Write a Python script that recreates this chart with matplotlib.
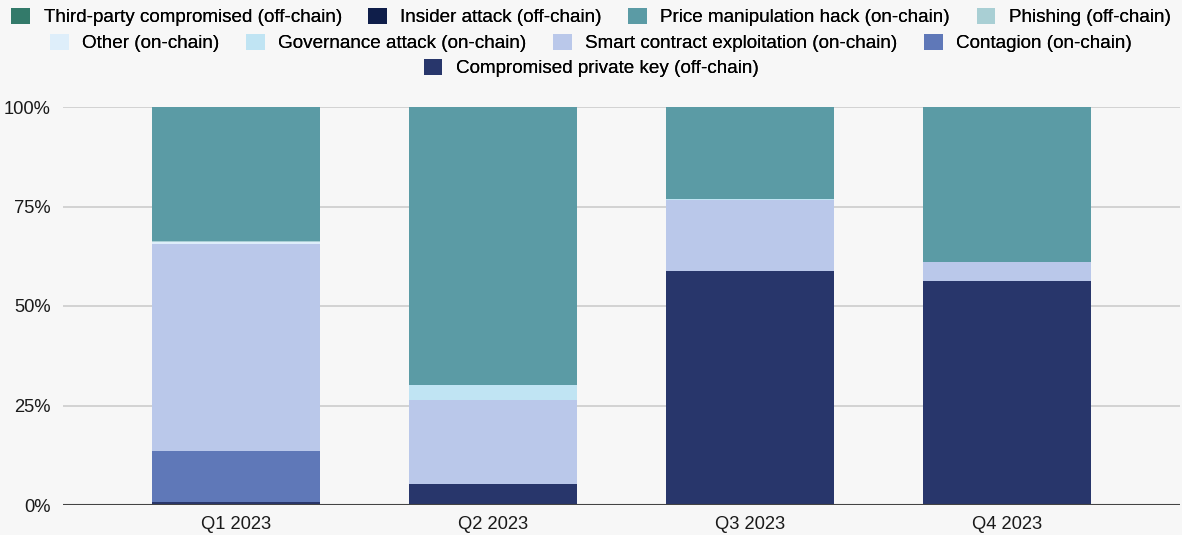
import matplotlib
matplotlib.use("Agg")
import matplotlib.pyplot as plt
from matplotlib.patches import Patch
from matplotlib.ticker import FuncFormatter
import numpy as np

plt.rcParams["font.family"] = ["Liberation Sans", "DejaVu Sans"]

quarters = ["Q1 2023", "Q2 2023", "Q3 2023", "Q4 2023"]

# Share of funds stolen by attack vector (%), stacked bottom to top
compromised_private_key = [0.7, 5.3, 58.9, 56.4]
contagion = [12.9, 0.0, 0.0, 0.0]
smart_contract_exploitation = [52.0, 21.0, 17.8, 4.6]
governance_attack = [0.0, 3.9, 0.3, 0.0]
other = [0.4, 0.0, 0.0, 0.0]
phishing = [0.4, 0.0, 0.0, 0.0]
price_manipulation_hack = [33.6, 69.8, 23.0, 39.0]
insider_attack = [0.0, 0.0, 0.0, 0.0]
third_party_compromised = [0.0, 0.0, 0.0, 0.0]

series = [
    ("Compromised private key (off-chain)", compromised_private_key, "#28366b"),
    ("Contagion (on-chain)", contagion, "#5f78b8"),
    ("Smart contract exploitation (on-chain)", smart_contract_exploitation, "#bac8ea"),
    ("Governance attack (on-chain)", governance_attack, "#c0e4f3"),
    ("Other (on-chain)", other, "#deeefa"),
    ("Phishing (off-chain)", phishing, "#a9cfd4"),
    ("Price manipulation hack (on-chain)", price_manipulation_hack, "#5b9ba5"),
    ("Insider attack (off-chain)", insider_attack, "#0f1e4a"),
    ("Third-party compromised (off-chain)", third_party_compromised, "#337a6a"),
]

bg = "#f7f7f7"
fs_tick = 13.2
fs_leg = 13.6
fig = plt.figure(figsize=(11.82, 5.35), dpi=100, facecolor=bg)
ax = fig.add_axes([63 / 1182, 30 / 535, 1117 / 1182, 398 / 535])
ax.set_facecolor(bg)

x = np.arange(len(quarters))
bottom = np.zeros(len(quarters))
for name, vals, color in series:
    v = np.array(vals) / 100.0
    ax.bar(x, v, width=0.654, bottom=bottom, color=color, edgecolor="none", zorder=3)
    bottom += v

ax.set_xlim(-0.673, 3.673)
ax.set_ylim(0, 1)
ax.set_yticks([0, 0.25, 0.5, 0.75, 1.0])
ax.yaxis.set_major_formatter(FuncFormatter(lambda v, _: f"{v * 100:.0f}%"))
ax.set_xticks(x)
ax.set_xticklabels(quarters)
ax.tick_params(axis="both", length=0, labelsize=fs_tick, colors="#1a1a1a")
ax.tick_params(axis="y", pad=9)
ax.tick_params(axis="x", pad=8)
ax.grid(axis="y", color="#cccccc", linewidth=1.2, zorder=0)
ax.axhline(0, color="#444444", linewidth=1.5, zorder=4)
for s in ax.spines.values():
    s.set_visible(False)

# Legend in three centred rows, following the chart's legend order
legend_order = list(reversed(series))
rows = [legend_order[0:4], legend_order[4:8], legend_order[8:9]]
row_y = [1 - 17 / 535, 1 - 43 / 535, 1 - 68 / 535]
for row, yy in zip(rows, row_y):
    handles = [Patch(facecolor=c, edgecolor="none", label=n) for n, _, c in row]
    leg = fig.legend(handles=handles, loc="center", bbox_to_anchor=(0.5, yy),
                     ncol=len(row), frameon=False, fontsize=fs_leg,
                     handlelength=1.0, handleheight=1.0, handletextpad=0.7,
                     columnspacing=1.4, borderpad=0, borderaxespad=0)
    fig.add_artist(leg)

fig.savefig("out.png", dpi=100, facecolor=bg)
